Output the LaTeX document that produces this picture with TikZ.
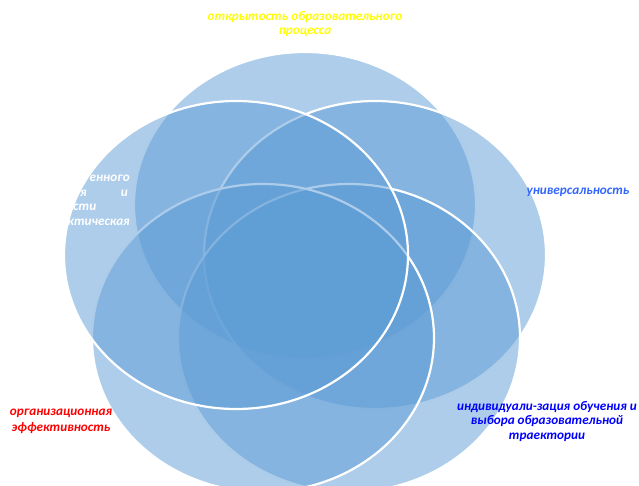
\documentclass[tikz,border=0pt]{standalone}
\usepackage{fontspec}
\setmainfont{Carlito}
\begin{document}
\begin{tikzpicture}[x=1pt,y=-1pt,
  petal/.style={fill={rgb,255:red,91;green,155;blue,213},fill opacity=0.5,draw=white,line width=2.2pt},
  lbl/.style={font=\bfseries\itshape\fontsize{13.2}{14.5}\selectfont,align=center,inner sep=0pt},
  frag/.style={font=\bfseries\itshape\fontsize{13.2}{14.5}\selectfont,text=white,inner sep=0pt}]
\useasboundingbox (0,0) rectangle (639,486);
\clip (0,0) rectangle (639,486);
\draw[petal] (305,205) ellipse [x radius=171,y radius=153];
\draw[petal] (375,255) ellipse [x radius=171,y radius=154];
\draw[petal] (349,338) ellipse [x radius=171,y radius=154];
\draw[petal] (263,338) ellipse [x radius=171,y radius=154];
\draw[petal] (236,255) ellipse [x radius=172,y radius=154];
\node[lbl,text={rgb,255:red,255;green,255;blue,0}] (open) at (305,24) {открытость образовательного\\процесса};
\node[lbl,text={rgb,255:red,51;green,102;blue,255}] (univ) at (578,192) {универсальность};
\node[lbl,text={rgb,255:red,255;green,0;blue,0},font=\bfseries\itshape\fontsize{13.2}{16}\selectfont] (org) at (61,421) {организационная\\эффективность};
\node[lbl,text={rgb,255:red,0;green,0;blue,255}] (ind) at (547,421) {индивидуали-зация обучения и\\выбора образовательной\\траектории};
\node[frag,anchor=east] (f1) at (130,178) {енного};
\node[frag,anchor=west] (f2) at (80,193) {я};
\node[frag,anchor=east] (f3) at (128,193) {и};
\node[frag,anchor=west] (f4) at (73,207) {сти};
\node[frag,anchor=east] (f5) at (130,222) {ктическая};
\end{tikzpicture}
\end{document}
